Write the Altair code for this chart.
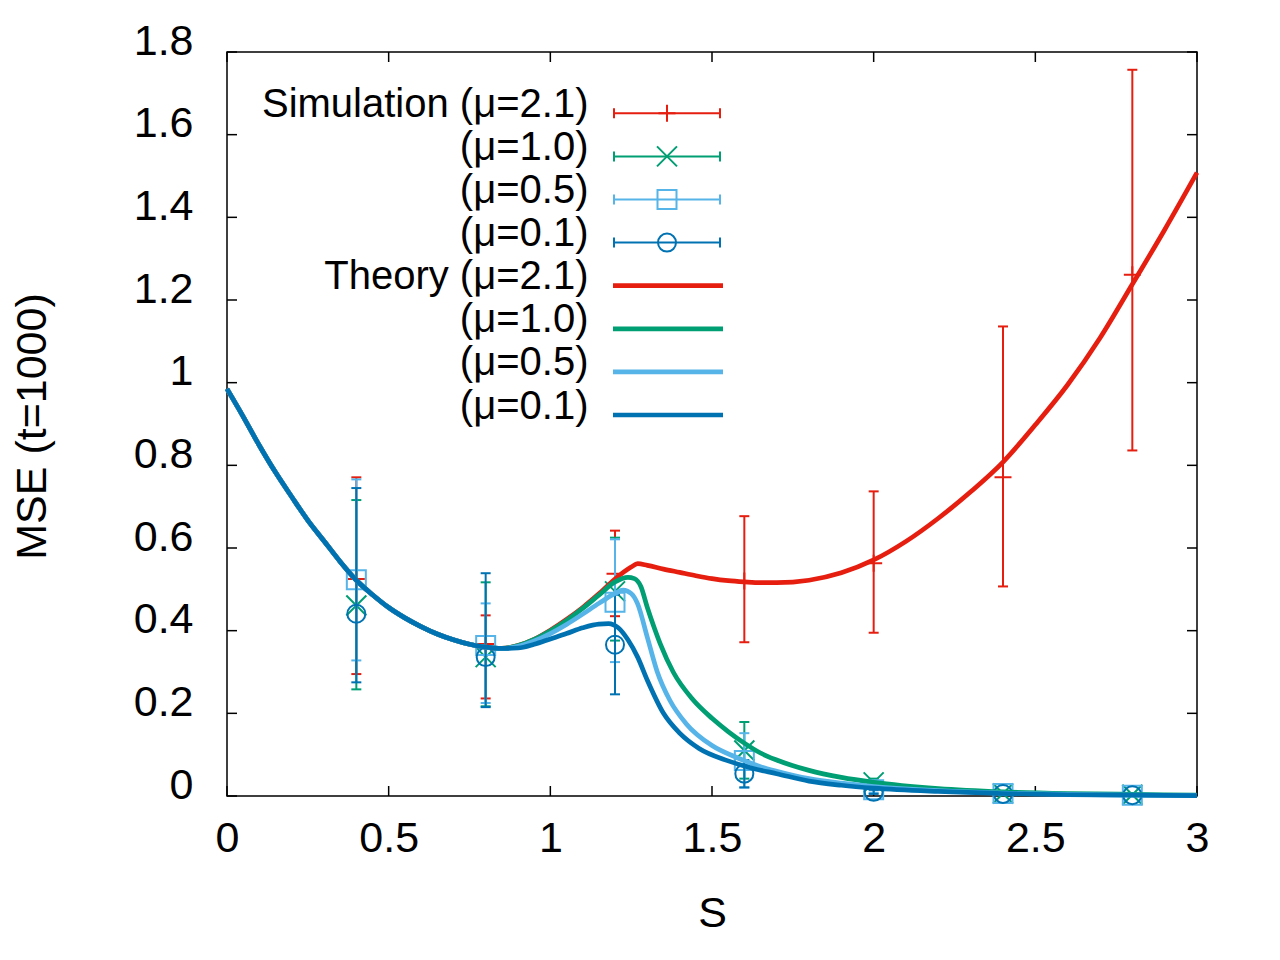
import altair as alt
import pandas as pd

RED, GREEN, LBLUE, DBLUE = "#e51e10", "#009e73", "#56b4e9", "#0072b2"
FONT = "Liberation Sans"

# ---------------- data ----------------
x_ticks = [0, 0.5, 1, 1.5, 2, 2.5, 3]
y_ticks = [0, 0.2, 0.4, 0.6, 0.8, 1, 1.2, 1.4, 1.6, 1.8]

# theory: common part (all mu identical)
common_s = [0.0, 0.05, 0.1, 0.15, 0.2, 0.25, 0.3, 0.35, 0.4, 0.45, 0.5, 0.55,
            0.6, 0.65, 0.7, 0.75, 0.8, 0.85]
common_mse = [0.985, 0.918, 0.848, 0.783, 0.724, 0.667, 0.617, 0.567, 0.522,
              0.487, 0.456, 0.431, 0.410, 0.392, 0.378, 0.367, 0.360, 0.357]

th21_s = [0.9, 0.95, 1.0, 1.05, 1.1, 1.15, 1.2, 1.25, 1.27, 1.3, 1.35, 1.4,
          1.45, 1.5, 1.55, 1.6, 1.65, 1.7, 1.8, 1.9, 2.0, 2.1, 2.2, 2.3, 2.4,
          2.5, 2.6, 2.7, 2.8, 2.9, 3.0]
th21_mse = [0.364, 0.379, 0.401, 0.427, 0.456, 0.489, 0.525, 0.554, 0.562,
            0.558, 0.549, 0.541, 0.533, 0.526, 0.521, 0.518, 0.516, 0.516,
            0.522, 0.540, 0.571, 0.616, 0.672, 0.736, 0.808, 0.898, 0.995,
            1.108, 1.238, 1.370, 1.508]

th10_s = [0.9, 0.95, 1.0, 1.05, 1.1, 1.15, 1.2, 1.24, 1.26, 1.28, 1.3, 1.32,
          1.34, 1.38, 1.44, 1.5, 1.55, 1.6, 1.65, 1.7, 1.8, 1.9, 2.0, 2.2,
          2.4, 2.6, 2.8, 3.0]
th10_mse = [0.364, 0.379, 0.400, 0.425, 0.454, 0.486, 0.518, 0.529, 0.526,
            0.507, 0.456, 0.410, 0.368, 0.300, 0.234, 0.188, 0.156, 0.128,
            0.104, 0.087, 0.062, 0.045, 0.033, 0.018, 0.010, 0.006, 0.004,
            0.002]

th05_s = [0.9, 0.95, 1.0, 1.05, 1.1, 1.15, 1.2, 1.225, 1.25, 1.27, 1.3, 1.33,
          1.37, 1.42, 1.5, 1.58, 1.65, 1.7, 1.8, 1.9, 2.0, 2.2, 2.4, 2.6,
          2.8, 3.0]
th05_mse = [0.362, 0.375, 0.393, 0.415, 0.440, 0.466, 0.490, 0.498, 0.490,
            0.465, 0.384, 0.302, 0.231, 0.175, 0.122, 0.092, 0.071, 0.060,
            0.042, 0.031, 0.023, 0.013, 0.007, 0.004, 0.002, 0.001]

th01_s = [0.9, 0.95, 1.0, 1.05, 1.1, 1.15, 1.18, 1.21, 1.24, 1.27, 1.3, 1.35,
          1.4, 1.46, 1.55, 1.63, 1.7, 1.8, 1.9, 2.0, 2.2, 2.4, 2.6, 2.8, 3.0]
th01_mse = [0.358, 0.367, 0.380, 0.393, 0.407, 0.416, 0.417, 0.407, 0.378,
            0.336, 0.280, 0.200, 0.152, 0.115, 0.085, 0.066, 0.054, 0.036,
            0.026, 0.019, 0.011, 0.006, 0.003, 0.002, 0.001]

# simulation (mean with error bars)
sim_s = [0.4, 0.8, 1.2, 1.6, 2.0, 2.4, 2.8]
sim21_mean = [0.525, 0.368, 0.538, 0.520, 0.563, 0.771, 1.261]
sim21_lo = [0.295, 0.236, 0.435, 0.372, 0.395, 0.507, 0.836]
sim21_hi = [0.771, 0.437, 0.642, 0.677, 0.737, 1.136, 1.757]

sim10_mean = [0.461, 0.336, 0.495, 0.110, 0.033, 0.006, 0.003]
sim10_lo = [0.258, 0.217, 0.376, 0.042, 0.025, 0.003, 0.001]
sim10_hi = [0.716, 0.517, 0.625, 0.179, 0.042, 0.009, 0.005]

sim05_mean = [0.523, 0.364, 0.469, 0.086, 0.015, 0.006, 0.002]
sim05_lo = [0.328, 0.225, 0.324, 0.020, 0.008, 0.003, 0.001]
sim05_hi = [0.766, 0.466, 0.621, 0.152, 0.022, 0.009, 0.004]

sim01_mean = [0.441, 0.336, 0.366, 0.054, 0.010, 0.005, 0.002]
sim01_lo = [0.275, 0.215, 0.246, 0.021, 0.005, 0.002, 0.001]
sim01_hi = [0.745, 0.539, 0.487, 0.087, 0.015, 0.008, 0.003]

legend_labels = ["Simulation (\u03bc=2.1)", "(\u03bc=1.0)", "(\u03bc=0.5)", "(\u03bc=0.1)",
                 "Theory (\u03bc=2.1)", "(\u03bc=1.0)", "(\u03bc=0.5)", "(\u03bc=0.1)"]

# ---------------- styling ----------------
W, H = 970, 744
PLUS = "M-1,0H1M0,-1V1"
XMARK = "M-1,-1L1,1M-1,1L1,-1"
HCAP = "M-1,0H1"
VCAP = "M0,-1V1"

xs = alt.Scale(domain=[0, 3], nice=False, zero=False)
ys = alt.Scale(domain=[0, 1.8], nice=False, zero=False)

x_axis = alt.Axis(values=x_ticks, format="~g", title="S", grid=False,
                  domain=False, ticks=False, tickSize=0,
                  labelFont=FONT, labelFontSize=43, labelColor="black",
                  labelBaseline="alphabetic", labelPadding=55,
                  labelFlush=False, labelOverlap=False,
                  titleFont=FONT, titleFontSize=43, titleFontWeight="normal",
                  titleColor="black", titleBaseline="alphabetic",
                  titleY=130, titleX=W / 2, titleAlign="center")
y_axis = alt.Axis(values=y_ticks, format="~g", title="MSE (t=1000)", grid=False,
                  domain=False, ticks=False, tickSize=0,
                  labelFont=FONT, labelFontSize=43, labelColor="black",
                  labelBaseline="alphabetic", labelOffset=2, labelPadding=34,
                  labelAlign="right", labelFlush=False, labelOverlap=False,
                  titleFont=FONT, titleFontSize=43, titleFontWeight="normal",
                  titleColor="black", titleAngle=270, titleBaseline="alphabetic",
                  titleX=-182, titleY=H / 2 + 2, titleAlign="center")


def X(f):
    return alt.X(f, scale=xs, axis=x_axis)


def Y(f):
    return alt.Y(f, scale=ys, axis=y_axis)


layers = []

# inward ticks on all four sides
xt = pd.DataFrame({"v": x_ticks})
yt = pd.DataFrame({"v": y_ticks})
TL = 10
layers.append(alt.Chart(xt).mark_rule(color="black", strokeWidth=1.5).encode(
    x=X("v:Q"), y=alt.value(H), y2=alt.value(H - TL)))
layers.append(alt.Chart(xt).mark_rule(color="black", strokeWidth=1.5).encode(
    x=X("v:Q"), y=alt.value(0), y2=alt.value(TL)))
layers.append(alt.Chart(yt).mark_rule(color="black", strokeWidth=1.5).encode(
    y=Y("v:Q"), x=alt.value(0), x2=alt.value(TL)))
layers.append(alt.Chart(yt).mark_rule(color="black", strokeWidth=1.5).encode(
    y=Y("v:Q"), x=alt.value(W - TL), x2=alt.value(W)))

sims = [
    (sim21_mean, sim21_lo, sim21_hi, RED, PLUS, 289),
    (sim10_mean, sim10_lo, sim10_hi, GREEN, XMARK, 400),
    (sim05_mean, sim05_lo, sim05_hi, LBLUE, "square", 361),
    (sim01_mean, sim01_lo, sim01_hi, DBLUE, "circle", 324),
]
for mean, lo, hi, col, shp, sz in sims:
    df = pd.DataFrame({"s": sim_s, "mean": mean, "lo": lo, "hi": hi})
    base = alt.Chart(df)
    layers.append(base.mark_rule(color=col, strokeWidth=2).encode(
        x=X("s:Q"), y=Y("lo:Q"), y2="hi:Q"))
    for f in ["lo", "hi"]:
        layers.append(base.mark_point(shape=HCAP, size=100, color=col, strokeWidth=2,
                                      filled=False, opacity=1).encode(
            x=X("s:Q"), y=Y(f + ":Q")))
    layers.append(base.mark_point(shape=shp, size=sz, color=col, strokeWidth=2,
                                  filled=False, opacity=1).encode(
        x=X("s:Q"), y=Y("mean:Q")))

theories = [(th21_s, th21_mse, RED), (th10_s, th10_mse, GREEN),
            (th05_s, th05_mse, LBLUE), (th01_s, th01_mse, DBLUE)]
for ts, tv, col in theories:
    df = pd.DataFrame({"s": common_s + ts, "mse": common_mse + tv})
    layers.append(alt.Chart(df).mark_line(color=col, strokeWidth=4.7,
                                          interpolate="monotone",
                                          strokeJoin="round").encode(
        x=X("s:Q"), y=Y("mse:Q"), order="s:Q"))

# ---------------- legend (gnuplot style: text left, sample right) ----------------
ROW0, ROWSTEP = 61.3, 43.1
LX_TEXT, LX0, LX1, LXM = 361.5, 387, 493, 440


def row_y(i):
    return ROW0 + ROWSTEP * i


for i, lab in enumerate(legend_labels):
    layers.append(alt.Chart().mark_text(
        text=lab, align="right", baseline="alphabetic", fontSize=40, font=FONT,
        color="black").encode(x=alt.value(LX_TEXT), y=alt.value(row_y(i) + 3.5)))

for i, (mean, lo, hi, col, shp, sz) in enumerate(sims):
    yv = alt.value(row_y(i))
    layers.append(alt.Chart().mark_rule(color=col, strokeWidth=2).encode(
        x=alt.value(LX0), x2=alt.value(LX1), y=yv))
    for px in [LX0, LX1]:
        layers.append(alt.Chart().mark_point(shape=VCAP, size=100, color=col,
                                             strokeWidth=2, filled=False,
                                             opacity=1).encode(x=alt.value(px), y=yv))
    layers.append(alt.Chart().mark_point(shape=shp, size=sz, color=col,
                                         strokeWidth=2, filled=False,
                                         opacity=1).encode(x=alt.value(LXM), y=yv))

for j, (ts, tv, col) in enumerate(theories):
    layers.append(alt.Chart().mark_rule(color=col, strokeWidth=4.7).encode(
        x=alt.value(LX0 - 1), x2=alt.value(LX1 + 3), y=alt.value(row_y(4 + j))))

chart = alt.layer(*layers, data=pd.DataFrame({"dummy": [0]})).properties(
    width=W, height=H,
    padding={"left": 219, "top": 44, "right": 60, "bottom": 150},
    autosize=alt.AutoSizeParams(type="none"),
    background="white",
).configure_view(stroke="black", strokeWidth=1.5)

chart.save("out.html", embed_options={"renderer": "svg", "actions": False})
